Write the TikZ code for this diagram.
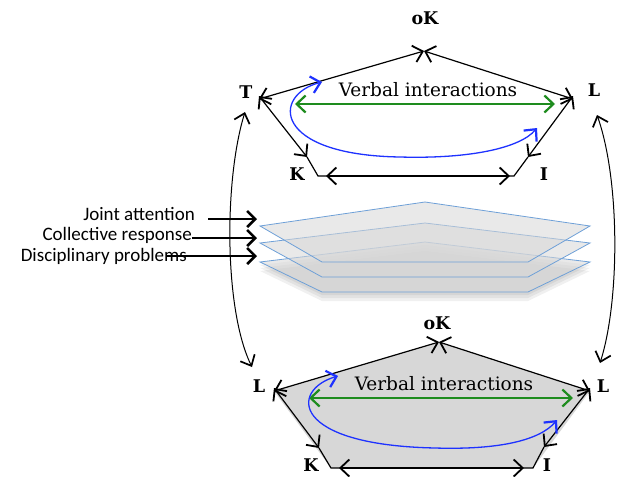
\documentclass[tikz,border=0pt]{standalone}
\usepackage{fontspec}
\setmainfont{DejaVu Serif}
\newfontfamily\labfont{Carlito}
\usetikzlibrary{arrows.meta}
\definecolor{vgreen}{RGB}{30,140,30}
\definecolor{vblue}{RGB}{30,50,255}
\definecolor{lblue}{RGB}{110,160,215}
\definecolor{pgray}{RGB}{215,215,215}
\begin{document}
\begin{tikzpicture}[x=1pt,y=-1pt,
  edge/.style={line width=1.2pt,
    {Straight Barb[length=9pt,width=17pt,line width=1.8pt]}-{Straight Barb[length=9pt,width=17pt,line width=1.8pt]}},
  plain/.style={line width=1.2pt},
  greenarr/.style={vgreen, line width=1.3pt,
    {Straight Barb[length=9pt,width=17pt,line width=2.2pt]}-{Straight Barb[length=9pt,width=17pt,line width=2.2pt]}},
  bluearr/.style={vblue, line width=1.3pt,
    {Straight Barb[length=9pt,width=17pt,line width=2.2pt]}-{Straight Barb[length=9pt,width=17pt,line width=2.2pt]}},
  bigarr/.style={line width=1pt,
    {Straight Barb[length=9pt,width=16pt,line width=1.7pt]}-{Straight Barb[length=9pt,width=16pt,line width=1.7pt]}},
  labarr/.style={line width=1.1pt, -{Straight Barb[length=8pt,width=16pt,line width=2.6pt]}},
  vlab/.style={font=\fontsize{17.5}{20}\selectfont\bfseries, inner sep=0pt},
  vitext/.style={font=\fontsize{18.5}{21}\selectfont, inner sep=0pt},
  leftlab/.style={font=\labfont\fontsize{19}{22}\selectfont, inner sep=0pt, anchor=east},
  layer/.style={draw=lblue, line width=0.8pt, fill=pgray, fill opacity=0.55},
  shadowl/.style={fill=black, fill opacity=0.06, draw=none}
]
\useasboundingbox (0,0) rectangle (622,477);

% ---------- top pentagon ----------
\coordinate (tT) at (259,99);
\coordinate (tO) at (424,51);
\coordinate (tL) at (573,99);
\coordinate (tK) at (318,176);
\coordinate (tI) at (514,176);
\coordinate (tKa) at (307,157);
\coordinate (tIa) at (528,157);
\coordinate (tKh) at (326,176);
\coordinate (tIh) at (510,176);

\node[vlab] (oK1) at (425,18) {oK};
\node[vlab] (T1) at (246,92) {T};
\node[vlab] (L1) at (594,90) {L};
\node[vlab] (K1) at (297,174) {K};
\node[vlab] (I1) at (544,174) {I};

\draw[plain] (tKa) -- (tK) -- (tI) -- (tIa);
\draw[edge] (tT) -- (tO);
\draw[edge] (tO) -- (tL);
\draw[edge] ([yshift=3pt]tT) -- (tKa);
\draw[edge] (tIa) -- ([yshift=3pt]tL);
\draw[edge] (tKh) -- (tIh);

\node[vitext] (vi1) at (428,90) {Verbal interactions};
\coordinate (g1a) at (295,104);
\coordinate (g1b) at (555,104);
\draw[greenarr] (g1a) -- (g1b);
\coordinate (b1a) at (322,82);
\coordinate (b1m) at (400,157);
\coordinate (b1b) at (537,128);
\draw[bluearr] (b1a) .. controls (272,95) and (272,155) .. (b1m) .. controls (470,159) and (520,148) .. (b1b);

% ---------- layers ----------
\foreach \s in {3,6,9}{
  \path[shadowl] (322,{292+\s}) -- (528,{292+\s}) -- (590,{262+\s}) -- (425,{242+\s}) -- (260,{262+\s}) -- cycle;
}
\path[layer] (260,262) -- (425,242) -- (590,262) -- (528,292) -- (322,292) -- cycle;
\path[layer] (260,243) -- (425,223) -- (590,243) -- (528,277) -- (322,277) -- cycle;
\path[layer] (260,226) -- (425,202) -- (590,226) -- (528,262) -- (322,262) -- cycle;

% ---------- left labels ----------
\node[leftlab] (ja) at (195,214) {Joint attention};
\node[leftlab] (cr) at (192,235) {Collective response};
\node[leftlab] (dp) at (187,256) {Disciplinary problems};
\coordinate (ja0) at (208,219);
\coordinate (ja1) at (257,219);
\coordinate (cr0) at (192,238);
\coordinate (cr1) at (257,238);
\coordinate (dp0) at (167,256);
\coordinate (dp1) at (257,256);
\draw[labarr] (ja0) -- (ja1);
\draw[labarr] (cr0) -- (cr1);
\draw[labarr] (dp0) -- (dp1);

% ---------- bottom pentagon ----------
\coordinate (bL) at (274,391);
\coordinate (bO) at (439,342);
\coordinate (bR) at (590,391);
\coordinate (bK) at (331,468);
\coordinate (bI) at (533,468);
\coordinate (bKa) at (319,448);
\coordinate (bIa) at (544,447);
\coordinate (bKh) at (339,468);
\coordinate (bIh) at (524,468);

\fill[pgray] (bL) -- (bO) -- (bR) -- (bI) -- (bK) -- cycle;

\node[vlab] (oK2) at (437,323) {oK};
\node[vlab] (L2) at (259,386) {L};
\node[vlab] (R2) at (603,386) {L};
\node[vlab] (K2) at (311,465) {K};
\node[vlab] (I2) at (547,465) {I};

\draw[plain] (bKa) -- (bK) -- (bI) -- (bIa);
\draw[edge] (bL) -- (bO);
\draw[edge] (bO) -- (bR);
\draw[edge] ([yshift=3pt]bL) -- (bKa);
\draw[edge] (bIa) -- ([yshift=3pt]bR);
\draw[edge] (bKh) -- (bIh);

\node[vitext] (vi2) at (444,384) {Verbal interactions};
\coordinate (g2a) at (309,398);
\coordinate (g2b) at (573,398);
\draw[greenarr] (g2a) -- (g2b);
\coordinate (b2a) at (338,376);
\coordinate (b2m) at (435,448);
\coordinate (b2b) at (557,420);
\draw[bluearr] (b2a) .. controls (290,390) and (290,445) .. (b2m) .. controls (500,450) and (540,440) .. (b2b);

% ---------- big side arrows ----------
\coordinate (lt) at (245,112);
\coordinate (lb) at (252,367);
\coordinate (rt) at (597,115);
\coordinate (rb) at (600,363);
\draw[bigarr] (lt) .. controls (224,180) and (224,310) .. (lb);
\draw[bigarr] (rt) .. controls (620,180) and (620,300) .. (rb);
\end{tikzpicture}
\end{document}
